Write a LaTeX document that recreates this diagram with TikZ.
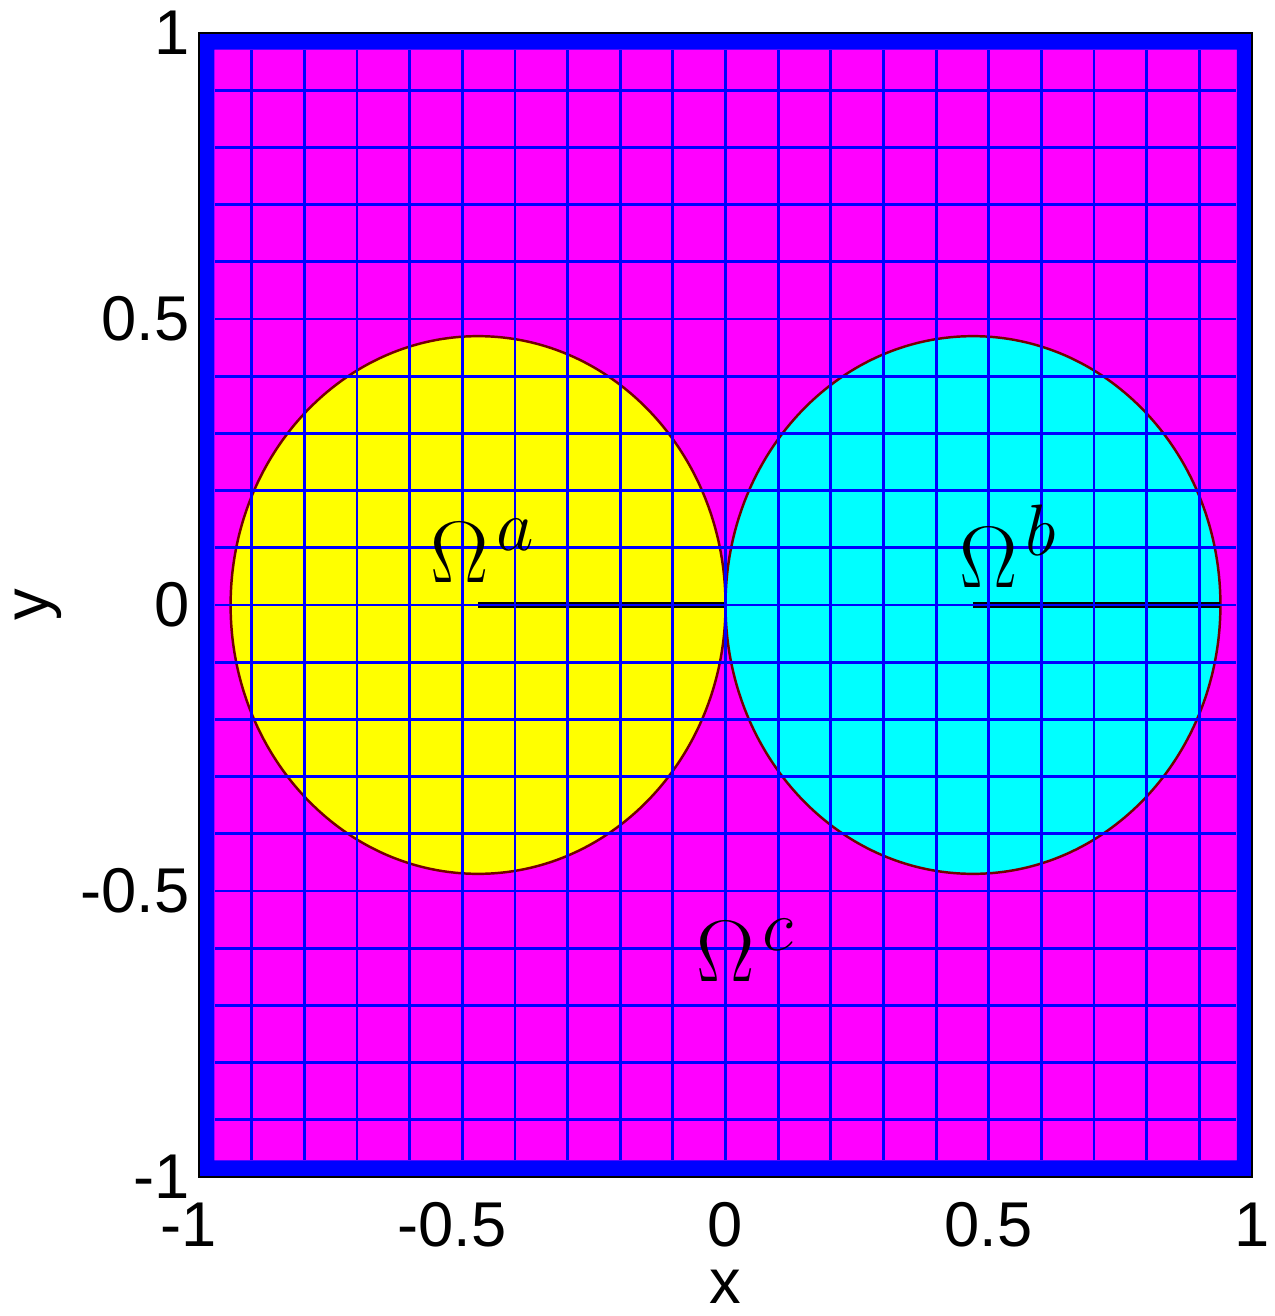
\documentclass[tikz,border=0pt]{standalone}
\usepackage{amsmath, amssymb}
\usepackage{fontspec}
\usepackage{xcolor}
\usepackage{tikz}
\usetikzlibrary{calc}

\newfontfamily\plotsans{Liberation Sans}
\definecolor{zoneA}{RGB}{255,255,0}
\definecolor{zoneB}{RGB}{0,255,255}
\definecolor{zoneC}{RGB}{255,0,255}
\definecolor{meshblue}{RGB}{0,0,255}

\tikzset{
  ticklabel/.style={font=\plotsans\fontsize{18}{20}\selectfont, inner sep=0pt},
  omegalabel/.style={font=\fontsize{28}{30}\selectfont, inner sep=0pt, anchor=base west},
  meshline/.style={meshblue, line width=0.8pt},
  rimline/.style={red!45!black, line width=0.7pt},
  cutline/.style={black, line width=1.7pt},
}

\begin{document}
\begin{tikzpicture}[x=5.265cm, y=5.72cm]
        \useasboundingbox (-1.378,-1.243) rectangle (1.0418,1.0577);

        % Region c: the square
        \fill[zoneC] (-1,-1) rectangle (1,1);

        % Region a and region b: the two discs
        \coordinate (ca) at (-0.47,0);
        \coordinate (cb) at (0.47,0);
        \coordinate (touch) at (0,0);
        \coordinate (rimb) at (0.94,0);
        \fill[zoneA] (ca) circle (0.47);
        \fill[zoneB] (cb) circle (0.47);
        \draw[rimline] (ca) circle (0.47);
        \draw[rimline] (cb) circle (0.47);

        % Cuts
        \draw[cutline] (ca) -- (touch);
        \draw[cutline] (cb) -- (rimb);

        % Mesh
        \foreach \k in {-9,...,9} {
            \draw[meshline] (\k/10,-0.97) -- (\k/10,0.97);
            \draw[meshline] (-0.97,\k/10) -- (0.97,\k/10);
        }

        % Boundary
        \fill[meshblue, even odd rule] (-1,-1) rectangle (1,1) (-0.971,-0.971) rectangle (0.971,0.971);
        \draw[black, line width=0.4pt] (-1,-1) rectangle (1,1);

        % Labels
        \node[omegalabel] (oa) at (-0.562, 0.040) {$\Omega^{\mkern2mu a}$};
        \node[omegalabel] (ob) at (0.443, 0.031) {$\Omega^{\mkern2mu b}$};
        \node[omegalabel] (oc) at (-0.057, -0.659) {$\Omega^{\mkern2mu c}$};

        % Axes
        \foreach \v/\t [count=\i] in {-1/\llap{-}1, -0.5/\llap{-}0.5, 0/0, 0.5/0.5, 1/1}
            \node[ticklabel, anchor=base] (xt\i) at (\v,-1.122) {\t};
        \foreach \v/\t [count=\i] in {-1/-1, -0.5/-0.5, 0/0, 0.5/0.5, 1/1}
            \node[ticklabel, anchor=east] (yt\i) at (-1.017,\v) {\t};
        \node[ticklabel, anchor=base] (xlab) at (0,-1.222) {x};
        \node[ticklabel, rotate=90] (ylab) at (-1.306,0) {y};
    \end{tikzpicture}
\end{document}
